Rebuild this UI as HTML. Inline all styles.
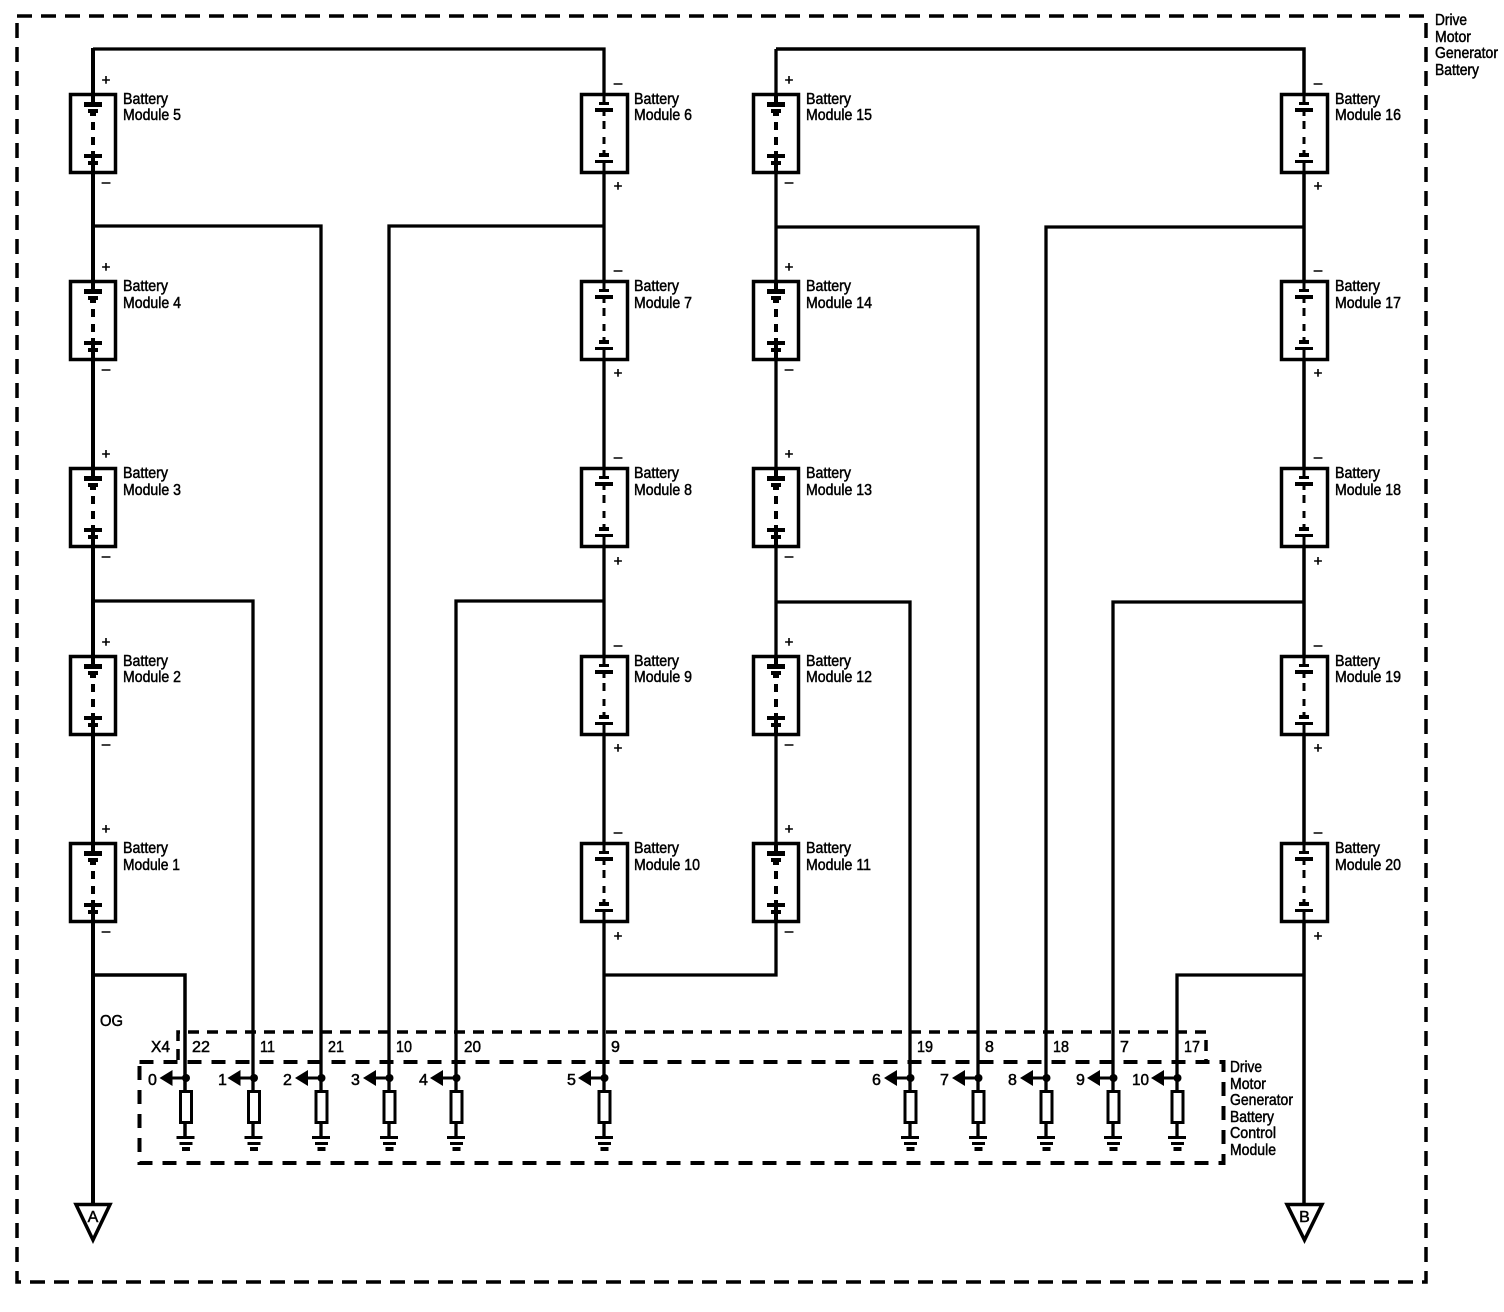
<!DOCTYPE html>
<html><head><meta charset="utf-8"><style>
html,body{margin:0;padding:0;background:#fff}
svg{display:block}
text{font-family:"Liberation Sans",sans-serif;font-size:16px;fill:#000;stroke:#000;stroke-width:.5}
.s{font-size:15px}
</style></head><body>
<svg width="1504" height="1312" viewBox="0 0 1504 1312" xmlns="http://www.w3.org/2000/svg">
<defs>
<g id="P" fill="#000" stroke="none">
<rect x="-22.5" y="1.5" width="45" height="78" fill="#fff" stroke="#000" stroke-width="3.5"/>
<rect x="-2" y="0" width="4" height="9"/>
<rect x="-9" y="9" width="18" height="5"/><rect x="-5" y="16" width="10" height="4"/><rect x="-3" y="20" width="6" height="3"/>
<rect x="-2" y="29" width="4" height="8"/><rect x="-2" y="44" width="4" height="8"/><rect x="-2" y="58" width="4" height="3"/>
<rect x="-9" y="61" width="18" height="4"/><rect x="-2" y="65" width="4" height="3"/><rect x="-5" y="68" width="10" height="4"/><rect x="-2" y="72" width="4" height="9"/>
</g>
<g id="M" fill="#000" stroke="none">
<rect x="-22.5" y="1.5" width="46" height="78" fill="#fff" stroke="#000" stroke-width="3.5"/><rect x="22" y="0" width="3" height="81"/>
<rect x="-1.5" y="0" width="3" height="9"/>
<rect x="-5" y="9" width="10" height="3"/><rect x="-9" y="15" width="18" height="4"/><rect x="-1.5" y="19" width="3" height="4"/>
<rect x="-1.5" y="28" width="3" height="8"/><rect x="-1.5" y="44" width="3" height="7"/><rect x="-1.5" y="57" width="3" height="3"/>
<rect x="-5" y="60" width="10" height="4"/><rect x="-9" y="67" width="18" height="3"/><rect x="-1.5" y="70" width="3" height="11"/>
</g>
<g id="R" fill="#000" stroke="none">
<rect x="-5" y="13.5" width="11" height="31" fill="#fff" stroke="#000" stroke-width="3"/>
<circle cx="0.5" cy="0" r="4"/>
<rect x="-9" y="58" width="18" height="3"/><rect x="-6" y="64" width="13" height="3"/><rect x="-3.500" y="69" width="8" height="4"/>
<polygon points="-26,0 -13,-8 -13,8"/><rect x="-13" y="-1.5" width="13" height="3"/>
</g>
</defs>

<!-- outer dashed frame -->
<rect x="17" y="16" width="1409" height="1266" fill="none" stroke="#000" stroke-width="3.5" stroke-dasharray="15 9"/>

<!-- wires -->
<g fill="none" stroke="#000" stroke-width="3.300">
<path stroke-width="4" d="M93 48V1205"/>
<path d="M93 49H604V1136"/>
<path d="M776 49H1304V1205" stroke-width="3.500"/>
<path d="M776 49V975H604"/>
<path d="M93 226H321V1136"/>
<path d="M389 1136V226H604"/>
<path d="M776 227H978V1136"/>
<path d="M1046 1136V227H1304"/>
<path d="M93 601H253V1136"/>
<path d="M456 1136V601H604"/>
<path d="M776 602H910V1136"/>
<path d="M1113 1136V602H1304"/>
<path d="M93 975H185V1136" stroke-width="3.5"/>
<path d="M1177 1136V975H1304"/>
</g>

<!-- battery symbols -->
<g>
<use href="#P" x="93" y="93"/><use href="#P" x="93" y="280"/><use href="#P" x="93" y="467"/><use href="#P" x="93" y="655"/><use href="#P" x="93" y="842"/>
<use href="#M" x="604" y="93"/><use href="#M" x="604" y="280"/><use href="#M" x="604" y="467"/><use href="#M" x="604" y="655"/><use href="#M" x="604" y="842"/>
<use href="#P" x="776" y="93"/><use href="#P" x="776" y="280"/><use href="#P" x="776" y="467"/><use href="#P" x="776" y="655"/><use href="#P" x="776" y="842"/>
<use href="#M" x="1304" y="93"/><use href="#M" x="1304" y="280"/><use href="#M" x="1304" y="467"/><use href="#M" x="1304" y="655"/><use href="#M" x="1304" y="842"/>
</g>

<!-- battery labels -->
<g>
<text x="123" y="104" textLength="45" lengthAdjust="spacingAndGlyphs">Battery</text><text x="123" y="120" textLength="58" lengthAdjust="spacingAndGlyphs">Module 5</text>
<text x="123" y="291" textLength="45" lengthAdjust="spacingAndGlyphs">Battery</text><text x="123" y="308" textLength="58" lengthAdjust="spacingAndGlyphs">Module 4</text>
<text x="123" y="478" textLength="45" lengthAdjust="spacingAndGlyphs">Battery</text><text x="123" y="495" textLength="58" lengthAdjust="spacingAndGlyphs">Module 3</text>
<text x="123" y="666" textLength="45" lengthAdjust="spacingAndGlyphs">Battery</text><text x="123" y="682" textLength="58" lengthAdjust="spacingAndGlyphs">Module 2</text>
<text x="123" y="853" textLength="45" lengthAdjust="spacingAndGlyphs">Battery</text><text x="123" y="870" textLength="57" lengthAdjust="spacingAndGlyphs">Module 1</text>

<text x="634" y="104" textLength="45" lengthAdjust="spacingAndGlyphs">Battery</text><text x="634" y="120" textLength="58" lengthAdjust="spacingAndGlyphs">Module 6</text>
<text x="634" y="291" textLength="45" lengthAdjust="spacingAndGlyphs">Battery</text><text x="634" y="308" textLength="58" lengthAdjust="spacingAndGlyphs">Module 7</text>
<text x="634" y="478" textLength="45" lengthAdjust="spacingAndGlyphs">Battery</text><text x="634" y="495" textLength="58" lengthAdjust="spacingAndGlyphs">Module 8</text>
<text x="634" y="666" textLength="45" lengthAdjust="spacingAndGlyphs">Battery</text><text x="634" y="682" textLength="58" lengthAdjust="spacingAndGlyphs">Module 9</text>
<text x="634" y="853" textLength="45" lengthAdjust="spacingAndGlyphs">Battery</text><text x="634" y="870" textLength="66" lengthAdjust="spacingAndGlyphs">Module 10</text>

<text x="806" y="104" textLength="45" lengthAdjust="spacingAndGlyphs">Battery</text><text x="806" y="120" textLength="66" lengthAdjust="spacingAndGlyphs">Module 15</text>
<text x="806" y="291" textLength="45" lengthAdjust="spacingAndGlyphs">Battery</text><text x="806" y="308" textLength="66" lengthAdjust="spacingAndGlyphs">Module 14</text>
<text x="806" y="478" textLength="45" lengthAdjust="spacingAndGlyphs">Battery</text><text x="806" y="495" textLength="66" lengthAdjust="spacingAndGlyphs">Module 13</text>
<text x="806" y="666" textLength="45" lengthAdjust="spacingAndGlyphs">Battery</text><text x="806" y="682" textLength="66" lengthAdjust="spacingAndGlyphs">Module 12</text>
<text x="806" y="853" textLength="45" lengthAdjust="spacingAndGlyphs">Battery</text><text x="806" y="870" textLength="65" lengthAdjust="spacingAndGlyphs">Module 11</text>

<text x="1335" y="104" textLength="45" lengthAdjust="spacingAndGlyphs">Battery</text><text x="1335" y="120" textLength="66" lengthAdjust="spacingAndGlyphs">Module 16</text>
<text x="1335" y="291" textLength="45" lengthAdjust="spacingAndGlyphs">Battery</text><text x="1335" y="308" textLength="66" lengthAdjust="spacingAndGlyphs">Module 17</text>
<text x="1335" y="478" textLength="45" lengthAdjust="spacingAndGlyphs">Battery</text><text x="1335" y="495" textLength="66" lengthAdjust="spacingAndGlyphs">Module 18</text>
<text x="1335" y="666" textLength="45" lengthAdjust="spacingAndGlyphs">Battery</text><text x="1335" y="682" textLength="66" lengthAdjust="spacingAndGlyphs">Module 19</text>
<text x="1335" y="853" textLength="45" lengthAdjust="spacingAndGlyphs">Battery</text><text x="1335" y="870" textLength="66" lengthAdjust="spacingAndGlyphs">Module 20</text>
</g>

<!-- polarity marks -->
<g text-anchor="middle">
<text class="s" x="106" y="85">+</text><text class="s" x="106" y="187">–</text>
<text class="s" x="106" y="272">+</text><text class="s" x="106" y="374">–</text>
<text class="s" x="106" y="459">+</text><text class="s" x="106" y="561">–</text>
<text class="s" x="106" y="647">+</text><text class="s" x="106" y="749">–</text>
<text class="s" x="106" y="834">+</text><text class="s" x="106" y="936">–</text>

<text class="s" x="618" y="88">–</text><text class="s" x="618" y="191">+</text>
<text class="s" x="618" y="275">–</text><text class="s" x="618" y="378">+</text>
<text class="s" x="618" y="462">–</text><text class="s" x="618" y="566">+</text>
<text class="s" x="618" y="650">–</text><text class="s" x="618" y="753">+</text>
<text class="s" x="618" y="837">–</text><text class="s" x="618" y="941">+</text>

<text class="s" x="789" y="85">+</text><text class="s" x="789" y="187">–</text>
<text class="s" x="789" y="272">+</text><text class="s" x="789" y="374">–</text>
<text class="s" x="789" y="459">+</text><text class="s" x="789" y="561">–</text>
<text class="s" x="789" y="647">+</text><text class="s" x="789" y="749">–</text>
<text class="s" x="789" y="834">+</text><text class="s" x="789" y="936">–</text>

<text class="s" x="1318" y="88">–</text><text class="s" x="1318" y="191">+</text>
<text class="s" x="1318" y="275">–</text><text class="s" x="1318" y="378">+</text>
<text class="s" x="1318" y="462">–</text><text class="s" x="1318" y="566">+</text>
<text class="s" x="1318" y="650">–</text><text class="s" x="1318" y="753">+</text>
<text class="s" x="1318" y="837">–</text><text class="s" x="1318" y="941">+</text>
</g>

<!-- connector and module dashed outlines -->
<g fill="none" stroke="#000">
<path d="M178 1060V1032H1206V1060" stroke-width="3.5" stroke-dasharray="11 8"/>
<rect x="139.500" y="1062" width="1084" height="101" stroke-width="4" stroke-dasharray="14 10"/>
</g>

<!-- pin circuits -->
<g>
<use href="#R" x="185.500" y="1078"/><use href="#R" x="253.500" y="1078"/><use href="#R" x="321" y="1078"/><use href="#R" x="389" y="1078"/><use href="#R" x="456" y="1078"/>
<use href="#R" x="604" y="1078"/><use href="#R" x="910" y="1078"/><use href="#R" x="978" y="1078"/><use href="#R" x="1046" y="1078"/><use href="#R" x="1113" y="1078"/><use href="#R" x="1177" y="1078"/>
</g>

<!-- connector pin labels -->
<g>
<text x="192" y="1052" textLength="18" lengthAdjust="spacingAndGlyphs">22</text><text x="260" y="1052" textLength="15" lengthAdjust="spacingAndGlyphs">11</text><text x="328" y="1052" textLength="16" lengthAdjust="spacingAndGlyphs">21</text><text x="396" y="1052" textLength="16" lengthAdjust="spacingAndGlyphs">10</text><text x="464" y="1052" textLength="17" lengthAdjust="spacingAndGlyphs">20</text>
<text x="611" y="1052">9</text><text x="917" y="1052" textLength="16" lengthAdjust="spacingAndGlyphs">19</text><text x="985" y="1052">8</text><text x="1053" y="1052" textLength="16" lengthAdjust="spacingAndGlyphs">18</text><text x="1120" y="1052">7</text><text x="1184" y="1052" textLength="16" lengthAdjust="spacingAndGlyphs">17</text>
<text x="151" y="1052" textLength="19" lengthAdjust="spacingAndGlyphs">X4</text>
<text x="100" y="1026" textLength="23" lengthAdjust="spacingAndGlyphs">OG</text>
</g>

<!-- channel labels -->
<g>
<text x="148" y="1085">0</text><text x="218" y="1085">1</text><text x="283" y="1085">2</text><text x="351" y="1085">3</text><text x="419" y="1085">4</text>
<text x="567" y="1085">5</text><text x="872" y="1085">6</text><text x="940" y="1085">7</text><text x="1008" y="1085">8</text><text x="1076" y="1085">9</text><text x="1132" y="1085" textLength="17" lengthAdjust="spacingAndGlyphs">10</text>
</g>

<!-- module titles -->
<g>
<text x="1230" y="1072" textLength="32" lengthAdjust="spacingAndGlyphs">Drive</text>
<text x="1230" y="1089" textLength="36" lengthAdjust="spacingAndGlyphs">Motor</text>
<text x="1230" y="1105" textLength="63" lengthAdjust="spacingAndGlyphs">Generator</text>
<text x="1230" y="1122" textLength="44" lengthAdjust="spacingAndGlyphs">Battery</text>
<text x="1230" y="1138" textLength="46" lengthAdjust="spacingAndGlyphs">Control</text>
<text x="1230" y="1155" textLength="46" lengthAdjust="spacingAndGlyphs">Module</text>
<text x="1435" y="25" textLength="32" lengthAdjust="spacingAndGlyphs">Drive</text>
<text x="1435" y="42" textLength="36" lengthAdjust="spacingAndGlyphs">Motor</text>
<text x="1435" y="58" textLength="63" lengthAdjust="spacingAndGlyphs">Generator</text>
<text x="1435" y="75" textLength="44" lengthAdjust="spacingAndGlyphs">Battery</text>
</g>

<!-- off-page connectors -->
<g fill="#fff" stroke="#000" stroke-width="3.500">
<polygon points="76,1204.500 110,1204.500 93,1240"/>
<polygon points="1287,1204.500 1322,1204.500 1304.500,1240"/>
</g>
<text x="93" y="1222" text-anchor="middle">A</text>
<text x="1304.500" y="1222" text-anchor="middle">B</text>
</svg>
</body></html>
